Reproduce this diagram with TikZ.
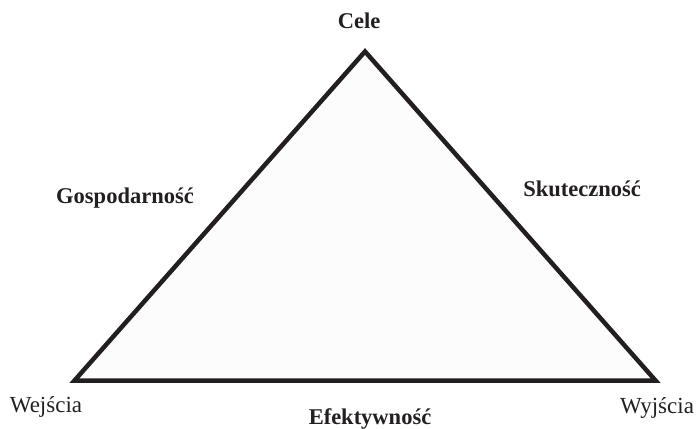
\documentclass[tikz,border=0pt]{standalone}
\usepackage{fontspec}
\setmainfont{Liberation Serif}
\definecolor{ink}{HTML}{231F20}
\definecolor{tri}{HTML}{FCFCFC}
\tikzset{
  lbl/.style={anchor=base, inner sep=0pt, text=ink, font=\fontsize{23}{27}\selectfont},
  blbl/.style={lbl, font=\fontsize{22.5}{27}\selectfont\bfseries},
  edge/.style={draw=ink, line width=4.5pt, line join=miter, fill=tri}
}
\begin{document}
\begin{tikzpicture}[x=1pt,y=-1pt]
\useasboundingbox (0,0) rectangle (698,428);
\coordinate (apex) at (365,51.5);
\coordinate (bl) at (74.5,380.5);
\coordinate (br) at (655.5,380.5);
\path[edge] (apex) -- (bl) -- (br) -- cycle;
\node[blbl] (cele) at (359,28.5) {Cele};
\node[blbl] (gosp) at (125,203) {Gospodarność};
\node[blbl] (skut) at (582,196) {Skuteczność};
\node[blbl] (efek) at (370,424) {Efektywność};
\node[lbl] (wej) at (46,412.5) {Wejścia};
\node[lbl] (wyj) at (657,413) {Wyjścia};
\end{tikzpicture}
\end{document}
